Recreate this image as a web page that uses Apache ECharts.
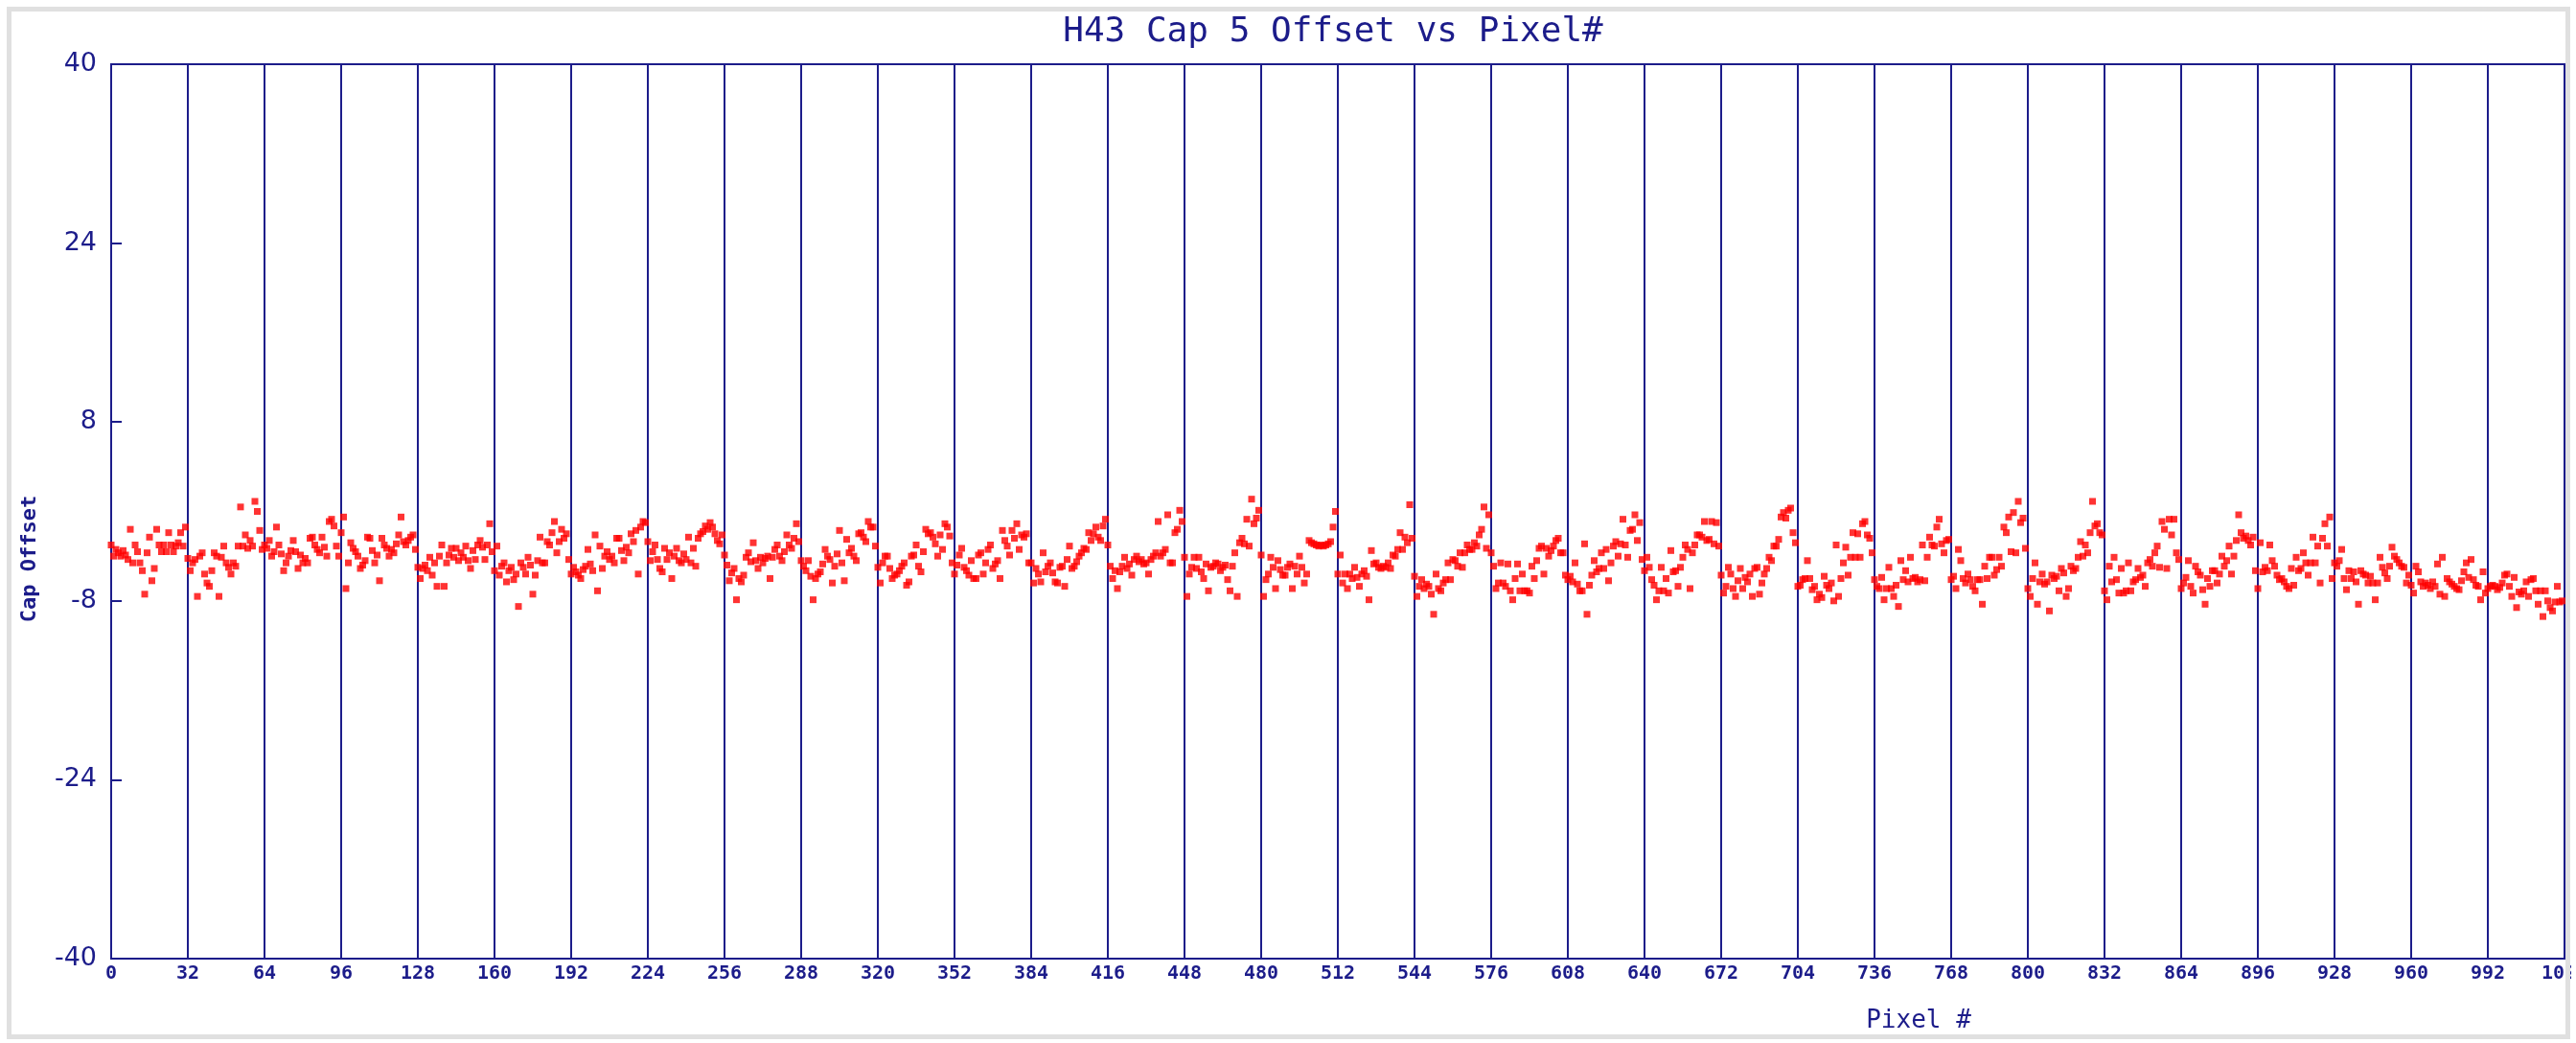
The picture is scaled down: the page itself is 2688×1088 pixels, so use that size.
<!DOCTYPE html>
<html><head><meta charset="utf-8">
<script src="https://cdn.jsdelivr.net/npm/echarts@6/dist/echarts.min.js"></script>
<style>html,body{margin:0;padding:0;background:#fff}#c{width:2688px;height:1088px}</style>
</head><body><div id="c"></div>
<script>
// Cap offset per pixel, one array per 32-pixel block
const s00 = [-3.0,-4.0,-3.4,-3.7,-4.0,-3.5,-3.9,-4.3,-1.6,-4.6,-3.0,-3.6,-4.6,-5.3,-7.4,-3.7,-2.3,-6.2,-5.1,-1.6,-3.0,-3.6,-3.0,-3.6,-1.9,-3.0,-3.6,-3.1,-2.8,-1.9,-3.1,-1.4];
const s01 = [-4.2,-5.3,-4.6,-4.3,-7.6,-4.0,-3.7,-5.6,-6.4,-6.7,-5.3,-3.7,-4.0,-7.6,-4.1,-3.1,-4.6,-5.0,-5.6,-4.6,-4.9,-3.1,0.4,-3.1,-2.1,-3.3,-2.6,-3.1,0.9,0.0,-1.7,-3.4];
const s02 = [-3.0,-3.3,-2.6,-4.0,-3.6,-1.4,-3.0,-3.8,-5.3,-4.6,-4.0,-3.5,-2.6,-3.6,-5.1,-3.9,-4.6,-4.2,-4.6,-2.4,-2.3,-3.0,-3.4,-3.7,-2.3,-3.2,-4.0,-0.9,-0.7,-1.3,-3.1,-4.0];
const s03 = [-1.9,-0.5,-6.9,-4.6,-2.8,-3.3,-3.6,-4.0,-5.1,-4.8,-4.4,-2.3,-2.4,-3.5,-4.6,-3.9,-6.2,-2.4,-3.0,-3.3,-4.0,-3.4,-3.7,-2.9,-2.1,-0.5,-2.7,-3.0,-2.6,-2.3,-2.1,-3.4];
const s04 = [-5.0,-6.0,-5.1,-4.8,-5.3,-4.1,-5.7,-4.6,-6.7,-4.0,-3.0,-6.7,-4.6,-3.9,-3.3,-4.1,-3.3,-4.4,-3.7,-4.1,-3.1,-4.4,-5.1,-3.5,-4.3,-3.0,-2.6,-3.2,-4.3,-3.0,-1.1,-3.6];
const s05 = [-5.3,-3.1,-5.7,-4.9,-4.6,-6.3,-5.3,-5.0,-6.1,-5.6,-8.5,-4.6,-5.0,-5.6,-4.1,-4.8,-7.4,-5.7,-4.4,-2.3,-4.6,-4.6,-2.7,-3.0,-1.9,-0.9,-3.7,-2.7,-1.6,-2.4,-2.0,-4.3];
const s06 = [-5.6,-5.0,-5.4,-5.7,-6.0,-5.2,-4.9,-3.4,-4.7,-5.3,-2.1,-7.1,-3.1,-5.1,-4.0,-3.6,-4.3,-4.0,-4.6,-2.4,-2.4,-3.5,-4.4,-3.2,-3.7,-2.0,-2.7,-1.7,-5.6,-1.4,-0.9,-1.0];
const s07 = [-2.7,-4.4,-3.6,-3.0,-4.3,-5.1,-5.4,-3.3,-4.3,-3.7,-6.0,-4.0,-3.3,-4.4,-4.6,-3.8,-4.3,-2.3,-4.6,-3.3,-4.9,-2.4,-2.0,-1.8,-1.3,-1.6,-1.0,-1.4,-2.0,-2.6,-2.9,-2.1];
const s08 = [-3.9,-4.8,-6.2,-5.5,-5.1,-7.9,-6.0,-6.3,-5.7,-4.1,-3.7,-4.5,-2.8,-4.4,-5.1,-4.1,-4.6,-4.2,-4.0,-6.0,-4.1,-3.4,-3.0,-4.0,-4.4,-3.6,-2.1,-3.0,-3.3,-2.4,-1.1,-2.7];
const s09 = [-4.4,-4.9,-5.3,-4.4,-5.8,-7.9,-6.0,-5.6,-5.4,-4.7,-3.4,-4.0,-4.3,-6.4,-4.9,-3.8,-1.7,-4.6,-6.2,-2.5,-3.7,-3.3,-4.0,-4.4,-2.0,-1.9,-2.3,-2.7,-0.9,-1.4,-1.4,-3.1];
const s10 = [-5.0,-6.4,-4.6,-4.0,-4.0,-5.1,-6.0,-5.7,-5.6,-5.3,-4.9,-4.6,-6.6,-6.3,-4.0,-3.9,-3.0,-4.9,-5.4,-3.6,-1.6,-2.0,-1.9,-2.3,-2.9,-4.0,-2.1,-3.4,-1.1,-1.4,-2.2,-4.6];
const s11 = [-5.6,-4.8,-3.9,-3.3,-5.0,-5.3,-5.7,-4.4,-6.0,-6.0,-3.9,-3.7,-5.6,-4.6,-3.4,-3.0,-5.1,-4.7,-4.4,-6.0,-1.7,-2.6,-3.1,-3.9,-1.7,-2.4,-1.1,-3.4,-2.1,-2.3,-2.0,-4.6];
const s12 = [-4.6,-6.4,-5.1,-5.6,-6.3,-3.7,-5.4,-4.9,-4.6,-5.5,-6.3,-6.4,-5.0,-4.9,-6.7,-4.3,-3.1,-5.1,-4.9,-4.5,-4.0,-3.7,-3.3,-3.4,-1.9,-2.6,-2.0,-1.4,-2.3,-2.6,-1.3,-0.7];
const s13 = [-3.0,-4.9,-6.0,-5.3,-6.9,-5.4,-4.9,-4.1,-5.1,-4.7,-5.7,-4.3,-4.0,-4.5,-4.3,-4.7,-4.6,-5.6,-4.3,-4.0,-3.7,-0.9,-4.0,-3.7,-3.4,-0.3,-4.6,-4.6,-1.9,-1.6,0.1,-0.9];
const s14 = [-4.1,-7.6,-5.6,-5.0,-4.1,-5.1,-4.1,-5.4,-6.0,-4.7,-7.1,-5.0,-4.9,-4.6,-4.7,-5.3,-5.0,-4.8,-6.1,-7.1,-4.9,-3.7,-7.6,-2.8,-2.4,-2.9,-0.7,-3.1,1.1,-1.1,-0.6,0.1];
const s15 = [-3.9,-7.6,-6.1,-5.6,-4.1,-5.0,-6.9,-4.4,-5.2,-5.7,-5.7,-5.0,-4.7,-6.9,-4.9,-5.6,-4.0,-5.0,-6.4,-5.6,-2.6,-2.8,-2.9,-3.0,-3.1,-3.0,-3.1,-3.0,-2.9,-2.7,-1.4,0.0];
const s16 = [-5.6,-3.9,-6.4,-5.6,-6.9,-5.6,-6.0,-5.0,-5.9,-6.7,-5.6,-5.3,-5.8,-7.9,-3.5,-4.7,-4.6,-5.0,-5.1,-4.9,-5.0,-4.6,-5.1,-3.9,-4.0,-3.4,-1.9,-3.4,-2.3,-2.8,0.6,-2.4];
const s17 = [-5.8,-7.6,-6.7,-6.1,-6.9,-6.5,-6.7,-7.4,-9.2,-5.6,-6.9,-7.1,-6.4,-6.1,-4.6,-6.1,-4.3,-4.4,-4.9,-3.7,-5.0,-3.7,-3.0,-3.4,-3.4,-2.8,-3.1,-2.1,-1.6,0.4,-3.3,-0.3];
const s18 = [-3.7,-4.9,-6.9,-6.4,-4.6,-6.4,-6.7,-4.7,-7.1,-7.9,-6.0,-4.7,-7.1,-5.6,-7.1,-7.1,-7.3,-4.9,-6.0,-4.4,-3.3,-3.1,-5.6,-3.3,-4.0,-3.5,-3.1,-2.6,-2.4,-3.7,-3.7,-5.7];
const s19 = [-6.1,-5.8,-6.3,-4.6,-6.5,-7.1,-7.1,-2.9,-9.2,-6.6,-5.7,-4.4,-5.4,-5.1,-3.7,-5.1,-3.4,-6.2,-4.6,-3.1,-2.7,-4.0,-2.9,-0.7,-3.0,-4.1,-1.7,-1.6,-0.3,-2.6,-1.0,-4.3];
const s20 = [-5.3,-4.1,-5.0,-6.1,-6.6,-7.9,-7.1,-5.0,-7.1,-6.0,-7.3,-3.5,-5.4,-5.3,-6.7,-5.0,-4.1,-3.0,-3.4,-6.9,-3.7,-3.0,-2.1,-2.1,-2.3,-0.9,-2.6,-2.5,-0.9,-2.9,-1.0,-3.1];
const s21 = [-5.7,-7.3,-6.7,-5.0,-5.6,-6.9,-7.6,-6.2,-5.1,-6.9,-5.9,-6.3,-5.6,-7.6,-5.1,-5.0,-7.4,-6.4,-5.6,-5.1,-4.1,-4.4,-3.1,-3.1,-2.5,-0.5,-0.1,-0.6,0.1,0.3,-1.9,-2.8];
const s22 = [-6.7,-6.6,-6.1,-6.0,-4.4,-6.0,-7.0,-6.7,-7.9,-7.4,-7.7,-5.8,-6.6,-6.9,-6.4,-8.0,-3.0,-7.6,-6.0,-4.6,-3.2,-5.7,-4.1,-1.9,-4.1,-2.0,-4.1,-1.1,-0.9,-2.1,-2.4,-3.7];
const s23 = [-6.1,-6.7,-6.9,-5.9,-7.9,-6.9,-5.0,-6.9,-7.6,-6.6,-8.5,-4.4,-6.1,-5.3,-6.3,-4.1,-6.0,-5.9,-6.3,-6.1,-3.0,-6.2,-4.1,-2.3,-3.0,-3.1,-1.4,-0.7,-2.9,-3.7,-2.6,-2.5];
const s24 = [-6.1,-5.8,-6.9,-3.4,-4.4,-6.0,-6.4,-5.6,-6.1,-6.7,-7.1,-6.1,-6.1,-8.3,-4.9,-6.0,-4.1,-4.1,-5.7,-5.2,-4.1,-4.9,-1.4,-1.9,-0.5,-3.6,-0.1,-3.7,0.9,-1.0,-0.6,-3.3];
const s25 = [-6.9,-7.6,-6.0,-4.6,-8.3,-6.3,-5.6,-6.5,-6.3,-8.9,-5.7,-6.0,-5.8,-7.1,-5.1,-5.5,-7.6,-6.9,-4.9,-5.3,-5.1,-4.1,-2.7,-4.0,-3.0,-3.7,-1.9,0.9,-1.3,-1.1,-1.9,-2.1];
const s26 = [-7.1,-7.9,-4.9,-6.3,-4.1,-6.1,-7.3,-5.1,-7.3,-7.1,-4.6,-7.1,-6.3,-6.1,-5.1,-5.9,-5.7,-6.7,-4.6,-4.3,-4.9,-3.7,-3.1,-5.0,-0.9,-1.6,-5.1,-0.7,-2.1,-0.7,-3.7,-4.3];
const s27 = [-6.9,-6.4,-5.9,-4.4,-6.7,-7.3,-4.9,-5.4,-5.7,-7.0,-8.3,-6.0,-6.7,-5.3,-5.3,-6.4,-5.6,-4.0,-4.9,-4.4,-3.1,-5.6,-4.0,-2.6,-0.3,-1.9,-2.4,-2.2,-2.6,-3.0,-2.3,-5.3];
const s28 = [-6.9,-2.8,-5.4,-5.0,-5.3,-3.0,-4.4,-4.9,-5.7,-6.1,-6.0,-6.3,-6.7,-6.9,-5.1,-6.6,-4.1,-5.3,-5.1,-3.7,-4.6,-5.7,-4.6,-2.3,-4.6,-3.1,-6.4,-2.4,-1.1,-3.1,-0.5,-6.0];
const s29 = [-4.6,-4.9,-4.4,-3.4,-6.0,-7.0,-5.3,-6.0,-5.4,-6.3,-8.3,-5.3,-5.6,-5.7,-6.4,-5.8,-6.4,-7.9,-6.4,-4.1,-5.0,-5.5,-6.0,-4.9,-3.2,-4.0,-4.3,-4.6,-4.9,-5.0,-6.4,-5.7];
const s30 = [-6.6,-7.3,-4.9,-5.4,-6.3,-6.7,-6.4,-6.6,-6.9,-6.3,-6.7,-4.7,-7.4,-4.1,-7.6,-6.0,-6.3,-6.5,-6.7,-6.9,-7.0,-6.2,-5.4,-4.6,-5.9,-4.3,-6.1,-6.6,-6.7,-7.9,-5.4,-7.3];
const s31 = [-6.9,-6.7,-6.6,-6.7,-7.0,-6.8,-6.4,-5.7,-5.6,-6.7,-7.6,-5.9,-8.6,-7.2,-7.4,-7.1,-6.3,-7.6,-6.1,-6.0,-7.1,-8.3,-7.1,-9.4,-7.1,-8.0,-8.6,-8.9,-8.1,-6.7,-8.1,-8.0];

const blocks = [s00,s01,s02,s03,s04,s05,s06,s07,s08,s09,s10,s11,s12,s13,s14,s15,
                s16,s17,s18,s19,s20,s21,s22,s23,s24,s25,s26,s27,s28,s29,s30,s31];
const BLOCK = 32;
const xRange = [0, 1024];
const yRange = [-40, 40];
const yStep = 16;

const points = [];
blocks.forEach((b, k) => b.forEach((v, j) => points.push([k * BLOCK + j, v])));

const NAVY = '#1c1c8a';
const chart = echarts.init(document.getElementById('c'), null, {renderer: 'canvas'});
chart.setOption({
  animation: false,
  backgroundColor: '#ffffff',
  title: {
    text: 'H43 Cap 5 Offset vs Pixel#',
    left: 1386, top: 11, textAlign: 'center',
    textStyle: {fontFamily: 'DejaVu Sans Mono', fontSize: 36, fontWeight: 'normal', color: NAVY}
  },
  grid: {left: 116, top: 67, width: 2560, height: 933, show: true,
         outerBoundsMode: 'none', containLabel: false,
         borderColor: NAVY, borderWidth: 2, backgroundColor: 'transparent'},
  xAxis: {
    type: 'value', min: xRange[0], max: xRange[1], interval: BLOCK,
    axisLine: {show: false}, axisTick: {show: false},
    splitLine: {show: true, lineStyle: {color: NAVY, width: 2}},
    axisLabel: {fontFamily: 'DejaVu Sans Mono', fontWeight: 'bold', fontSize: 20,
                color: NAVY, margin: 6, showMinLabel: true, showMaxLabel: true, hideOverlap: false,
                formatter: v => String(v)}
  },
  yAxis: {
    type: 'value', min: yRange[0], max: yRange[1], interval: yStep,
    axisLine: {show: true, lineStyle: {color: NAVY, width: 2}},
    axisTick: {show: true, inside: true, length: 11, lineStyle: {color: NAVY, width: 2}},
    splitLine: {show: false},
    axisLabel: {fontFamily: 'DejaVu Sans', fontSize: 27, color: NAVY, margin: 15,
                formatter: v => String(v)}
  },
  series: [{
    type: 'scatter', data: points, symbol: 'rect', symbolSize: 7,
    itemStyle: {color: '#ff0000'}, clip: false
  }],
  graphic: [
    {type: 'text', x: 2002, y: 1065, z: 50,
     style: {text: 'Pixel #', font: '26px "DejaVu Sans Mono"', fill: NAVY, align: 'center', verticalAlign: 'middle'}},
    {type: 'text', x: 31, y: 583, rotation: Math.PI / 2, z: 50,
     style: {text: 'Cap Offset', font: 'bold 22px "DejaVu Sans Mono"', fill: NAVY, align: 'center', verticalAlign: 'middle'}},
    {type: 'rect', z: 100, shape: {x: 2683, y: 0, width: 10, height: 1088}, style: {fill: '#ffffff'}},
    {type: 'rect', z: 101, shape: {x: 9.5, y: 9.5, width: 2670, height: 1072},
     style: {fill: 'none', stroke: '#e0e0e0', lineWidth: 5}}
  ]
});
</script></body></html>
